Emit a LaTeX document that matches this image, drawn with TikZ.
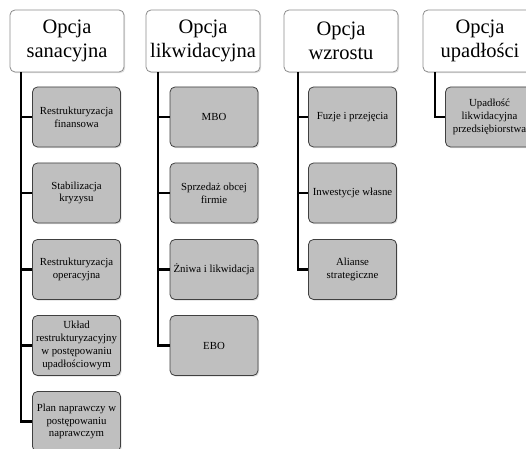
\documentclass[tikz,border=0pt]{standalone}
\usepackage{fontspec}
\setmainfont{Liberation Serif}
\usetikzlibrary{shadows}
\begin{document}
\begin{tikzpicture}[x=1bp,y=-1bp,
  head/.style={draw=black!45, fill=white, rounded corners=5bp, line width=0.8bp,
    minimum width=114bp, minimum height=62bp, align=center, inner sep=1bp,
    font=\fontsize{20.5bp}{24.5bp}\selectfont,
    drop shadow={opacity=0.25, shadow xshift=1.2bp, shadow yshift=-1.2bp}},
  child/.style={draw=black!75, fill=black!25, rounded corners=5bp, line width=0.8bp,
    minimum width=88bp, minimum height=60bp, align=center, inner sep=1bp,
    font=\fontsize{10.8bp}{12.8bp}\selectfont,
    drop shadow={opacity=0.25, shadow xshift=1.2bp, shadow yshift=-1.2bp}},
  conn/.style={line width=2.6bp, black}]
\clip (0,0) rectangle (526,449);
\fill[white] (0,0) rectangle (526,449);
% headers
\node[head] (h1) at (67,41) {Opcja\\sanacyjna};
\node[head] (h2) at (203,41) {Opcja\\likwidacyjna};
\node[head] (h3) at (341,41) {Opcja\\wzrostu};
\node[head] (h4) at (480,41) {Opcja\\upadłości};
% column 1
\node[child] (a1) at (76.5,117) {Restrukturyzacja\\finansowa};
\node[child] (a2) at (76.5,193) {Stabilizacja\\kryzysu};
\node[child] (a3) at (76.5,269.5) {Restrukturyzacja\\operacyjna};
\node[child] (a4) at (76.5,345.5) {Układ\\restrukturyzacyjny\\w postępowaniu\\upadłościowym};
\node[child] (a5) at (76.5,421.5) {Plan naprawczy w\\postępowaniu\\naprawczym};
% column 2
\node[child] (b1) at (214,117) {MBO};
\node[child] (b2) at (214,193) {Sprzedaż obcej\\firmie};
\node[child] (b3) at (214,269.5) {Żniwa i likwidacja};
\node[child] (b4) at (214,345.5) {EBO};
% column 3
\node[child] (c1) at (352.5,117) {Fuzje i przejęcia};
\node[child] (c2) at (352.5,193) {Inwestycje własne};
\node[child] (c3) at (352.5,269.5) {Alianse\\strategiczne};
% column 4
\node[child] (d1) at (489.5,117) {Upadłość\\likwidacyjna\\przedsiębiorstwa};
% connectors
\coordinate (v1) at (21,0);
\coordinate (v2) at (158,0);
\coordinate (v3) at (298,0);
\coordinate (v4) at (435,0);
\foreach \n in {a1,a2,a3,a4,a5} \draw[conn] (h1.south -| v1) |- (\n.west);
\foreach \n in {b1,b2,b3,b4} \draw[conn] (h2.south -| v2) |- (\n.west);
\foreach \n in {c1,c2,c3} \draw[conn] (h3.south -| v3) |- (\n.west);
\draw[conn] (h4.south -| v4) |- (d1.west);
\end{tikzpicture}
\end{document}
